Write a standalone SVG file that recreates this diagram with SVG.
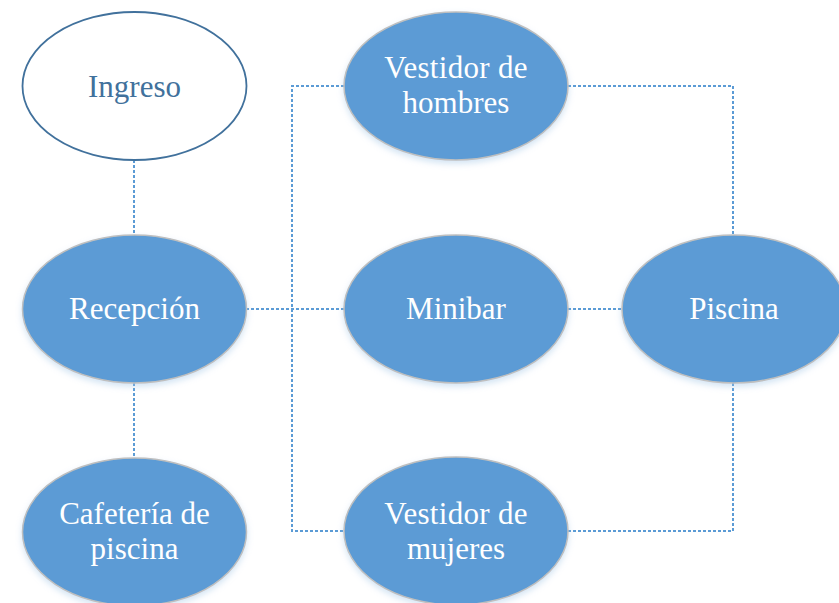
<svg xmlns="http://www.w3.org/2000/svg" width="839" height="603" viewBox="0 0 839 603">
<style>
.conn{fill:none;stroke:#5B9BD5;stroke-width:2;stroke-dasharray:3 2}
.blue{fill:#5B9BD5;stroke:#BFBFBF;stroke-width:1.5;filter:url(#sh)}
.white{fill:#FFFFFF;stroke:#41719C;stroke-width:1.8}
.t{font-family:'Liberation Serif','Times New Roman',serif;font-size:31px;text-anchor:middle;fill:#FFFFFF}
.td{fill:#41719C}
</style>
<defs>
<filter id="sh" x="-20%" y="-20%" width="140%" height="150%">
<feDropShadow dx="0" dy="3" stdDeviation="3" flood-color="#9DC3E6" flood-opacity="0.45"/>
</filter>
</defs>
<rect width="839" height="603" fill="#FFFFFF"/>
<g id="connectors">
<path class="conn" d="M134,160 V235"/>
<path class="conn" d="M134,383 V458"/>
<path class="conn" d="M246,309 H344"/>
<path class="conn" d="M344,86 H292 V531 H344"/>
<path class="conn" d="M568,86 H733 V235"/>
<path class="conn" d="M568,309 H622"/>
<path class="conn" d="M733,383 V531 H568"/>
</g>
<g id="ingreso">
<ellipse class="white" cx="134.5" cy="86" rx="112" ry="74"/>
<text class="t td" x="134.5" y="96.5">Ingreso</text>
</g>
<g id="recepcion">
<ellipse class="blue" cx="134.5" cy="309" rx="112" ry="74"/>
<text class="t" x="134.5" y="319">Recepción</text>
</g>
<g id="cafeteria">
<ellipse class="blue" cx="134.5" cy="532" rx="112" ry="74"/>
<text class="t" x="134.5" y="524">Cafetería de</text>
<text class="t" x="134.5" y="559">piscina</text>
</g>
<g id="vestidor-hombres">
<ellipse class="blue" cx="456" cy="86" rx="112" ry="74"/>
<text class="t" x="456" y="77.5" letter-spacing="0.3">Vestidor de</text>
<text class="t" x="456" y="113">hombres</text>
</g>
<g id="minibar">
<ellipse class="blue" cx="456" cy="309" rx="112" ry="74"/>
<text class="t" x="456" y="319">Minibar</text>
</g>
<g id="piscina">
<ellipse class="blue" cx="734" cy="309" rx="112" ry="74"/>
<text class="t" x="734" y="318.5">Piscina</text>
</g>
<g id="vestidor-mujeres">
<ellipse class="blue" cx="456" cy="531" rx="112" ry="74"/>
<text class="t" x="456" y="524" letter-spacing="0.3">Vestidor de</text>
<text class="t" x="456" y="559">mujeres</text>
</g>
</svg>
